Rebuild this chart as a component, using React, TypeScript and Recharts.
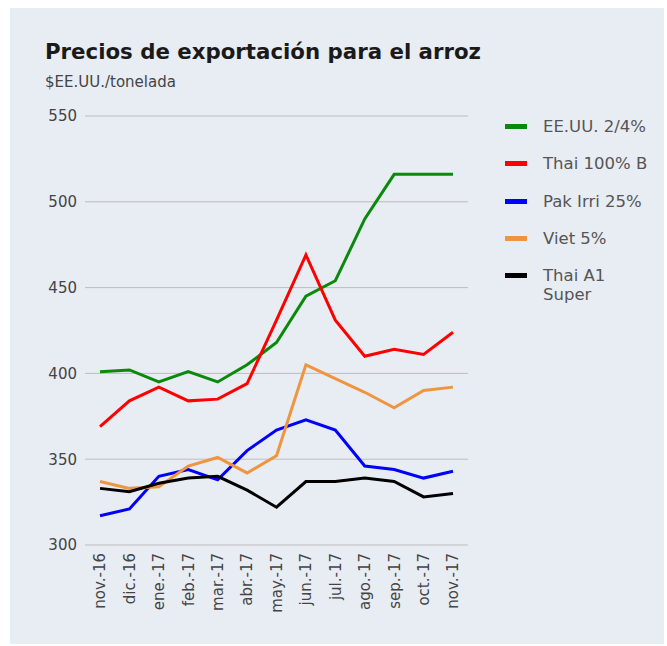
import { LineChart, Line, XAxis, YAxis, CartesianGrid, Legend } from "recharts";

const months = [
  "nov.-16", "dic.-16", "ene.-17", "feb.-17", "mar.-17", "abr.-17", "may.-17",
  "jun.-17", "jul.-17", "ago.-17", "sep.-17", "oct.-17", "nov.-17",
];

const eeuu = [401, 402, 395, 401, 395, 405, 418, 445, 454, 490, 516, 516, 516];
const thai100 = [369, 384, 392, 384, 385, 394, 431, 469, 431, 410, 414, 411, 424];
const pakIrri = [317, 321, 340, 344, 338, 355, 367, 373, 367, 346, 344, 339, 343];
const viet5 = [337, 333, 334, 346, 351, 342, 352, 405, 397, 389, 380, 390, 392];
const thaiA1 = [333, 331, 336, 339, 340, 332, 322, 337, 337, 339, 337, 328, 330];

const yTicks = [300, 350, 400, 450, 500, 550];

const series = [
  { key: "eeuu", name: "EE.UU. 2/4%", color: "#0a8a0a" },
  { key: "thai100", name: "Thai 100% B", color: "#ff0000" },
  { key: "pakIrri", name: "Pak Irri 25%", color: "#0000ff" },
  { key: "viet5", name: "Viet 5%", color: "#f0953f" },
  { key: "thaiA1", name: "Thai A1 Super", color: "#000000" },
];

const data = months.map((m, i) => ({
  month: m,
  eeuu: eeuu[i],
  thai100: thai100[i],
  pakIrri: pakIrri[i],
  viet5: viet5[i],
  thaiA1: thaiA1[i],
}));

const FONT = "'DejaVu Sans', sans-serif";

const MonthTick = (props: any) => {
  const { x, y, payload } = props;
  return (
    <g transform={`translate(${x},${y})`}>
      <text
        transform="rotate(-90)"
        textAnchor="end"
        dy="0.36em"
        fontSize={15}
        fontFamily={FONT}
        fill="#444"
      >
        {payload.value}
      </text>
    </g>
  );
};

const LegendBox = () => (
  <div style={{ fontFamily: FONT, fontSize: 16.5, color: "#555" }}>
    {series.map((s) => (
      <div
        key={s.key}
        style={{ display: "flex", alignItems: "flex-start", height: 37.3 }}
      >
        <div
          style={{
            width: 22,
            height: 5,
            background: s.color,
            marginTop: 7,
            marginRight: 16,
          }}
        />
        <div style={{ width: 110, lineHeight: "19px" }}>
          {s.name === "Thai A1 Super" ? (
            <>
              Thai A1
              <br />
              Super
            </>
          ) : (
            s.name
          )}
        </div>
      </div>
    ))}
  </div>
);

export default function App() {
  return (
    <div
      style={{
        position: "absolute",
        left: 0,
        top: 0,
        width: 667,
        height: 646,
        background: "#fff",
      }}
    >
      <div
        style={{
          position: "absolute",
          left: 10,
          top: 8,
          width: 654,
          height: 636,
          background: "#e8ecf3",
        }}
      >
        <div
          style={{
            position: "absolute",
            left: 35,
            top: 33,
            fontFamily: FONT,
            fontWeight: "bold",
            fontSize: 21.3,
            lineHeight: "21px",
            color: "#1a1a1a",
            whiteSpace: "nowrap",
          }}
        >
          Precios de exportación para el arroz
        </div>
        <div
          style={{
            position: "absolute",
            left: 35,
            top: 67,
            fontFamily: FONT,
            fontSize: 15,
            lineHeight: "15px",
            color: "#444",
            whiteSpace: "nowrap",
          }}
        >
          $EE.UU./tonelada
        </div>
        <div style={{ position: "absolute", left: 0, top: 0 }}>
          <LineChart
            width={654}
            height={636}
            data={data}
            margin={{ top: 108, right: 46, left: 0, bottom: 0 }}
          >
            <CartesianGrid vertical={false} stroke="#bdbdbd" />
            <XAxis
              dataKey="month"
              height={99}
              axisLine={false}
              tickLine={false}
              interval={0}
              padding={{ left: 15, right: 15 }}
              tick={<MonthTick />}
            />
            <YAxis
              width={75}
              domain={[300, 550]}
              ticks={yTicks}
              axisLine={false}
              tickLine={false}
              tick={{ fontSize: 15, fontFamily: FONT, fill: "#444" }}
            />
            <Legend
              layout="vertical"
              align="right"
              verticalAlign="top"
              content={<LegendBox />}
              wrapperStyle={{ left: 495, top: 109, width: 150 }}
            />
            {series.map((s) => (
              <Line
                key={s.key}
                type="linear"
                dataKey={s.key}
                name={s.name}
                stroke={s.color}
                strokeWidth={3}
                dot={false}
                activeDot={false}
                isAnimationActive={false}
              />
            ))}
          </LineChart>
        </div>
      </div>
    </div>
  );
}
